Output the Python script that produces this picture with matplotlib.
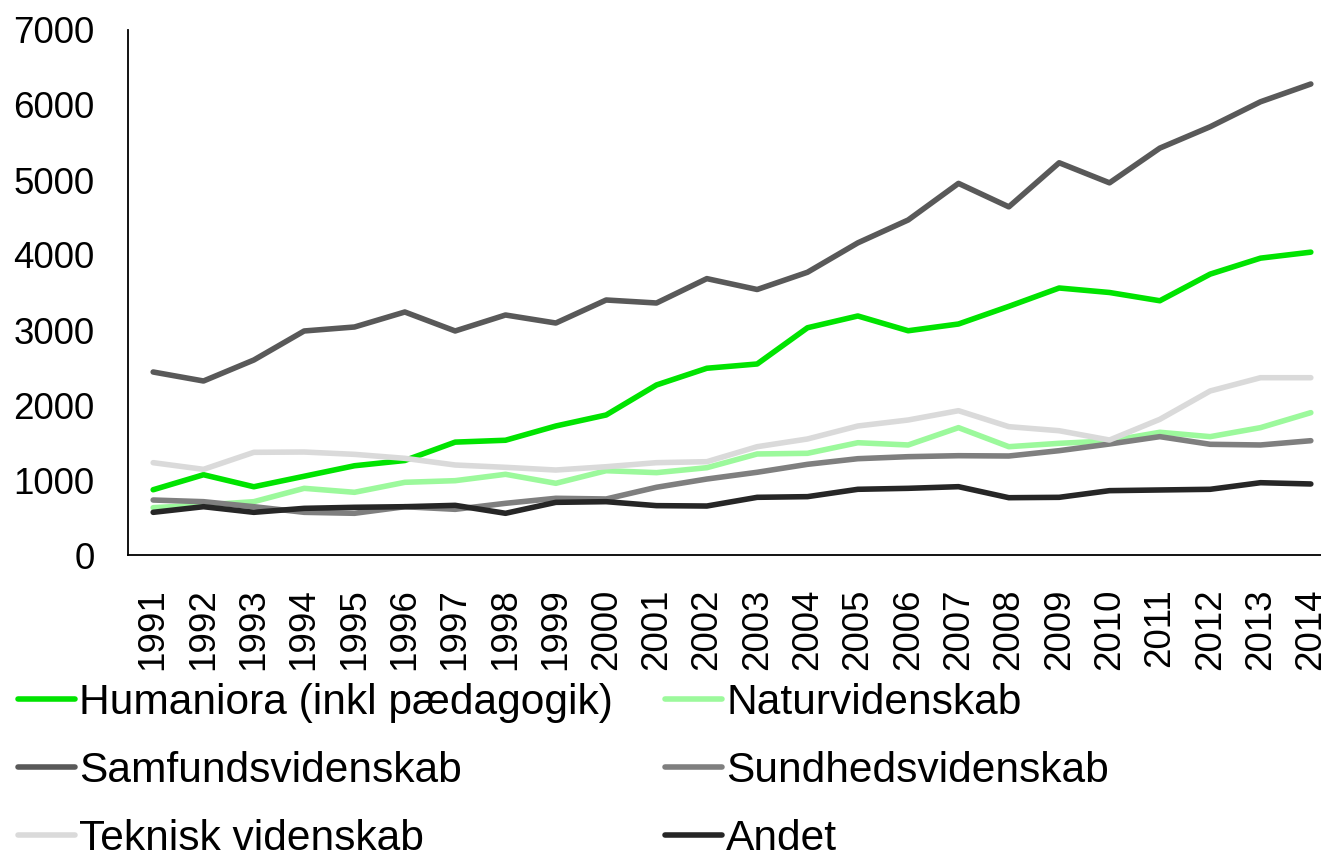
import matplotlib.pyplot as plt

plt.rcParams['font.family'] = ['Liberation Sans', 'DejaVu Sans']

years = [str(y) for y in range(1991, 2015)]

humaniora = [870, 1070, 910, 1050, 1190, 1260, 1505, 1530, 1720, 1867, 2267, 2490,
             2547, 3030, 3187, 2990, 3080, 3315, 3560, 3500, 3390, 3745, 3958, 4038]
natur = [631, 667, 711, 889, 836, 969, 991, 1076, 956, 1124, 1098, 1164,
         1347, 1356, 1497, 1467, 1698, 1444, 1489, 1520, 1636, 1578, 1698, 1898]
samfund = [2440, 2320, 2600, 2987, 3040, 3240, 2987, 3200, 3093, 3400, 3360, 3685,
           3540, 3770, 4162, 4467, 4955, 4642, 5230, 4962, 5425, 5710, 6043, 6280]
sundhed = [733, 711, 644, 569, 556, 644, 609, 689, 756, 747, 903, 1013,
           1103, 1209, 1284, 1311, 1324, 1320, 1391, 1480, 1578, 1476, 1467, 1524]
teknisk = [1231, 1142, 1369, 1373, 1342, 1289, 1200, 1169, 1133, 1177, 1231, 1244,
           1444, 1547, 1720, 1800, 1924, 1711, 1657, 1533, 1809, 2187, 2364, 2364]
andet = [569, 644, 569, 622, 636, 644, 662, 556, 702, 711, 658, 653,
         769, 778, 876, 889, 911, 764, 769, 858, 867, 876, 964, 947]

labels = ['Humaniora (inkl pædagogik)', 'Naturvidenskab', 'Samfundsvidenskab',
          'Sundhedsvidenskab', 'Teknisk videnskab', 'Andet']
colors = ['#00E400', '#9CF99C', '#595959', '#7F7F7F', '#DADADA', '#262626']
series = [humaniora, natur, samfund, sundhed, teknisk, andet]

fig = plt.figure(figsize=(13.21, 8.55), dpi=100)
ax = fig.add_axes([128/1321, 300/855, 1208/1321, 525/855])

lines = []
for vals, lab, col in zip(series, labels, colors):
    ln, = ax.plot(range(len(years)), vals, color=col, lw=4.0, label=lab,
                  solid_capstyle='round', solid_joinstyle='round')
    lines.append(ln)

ax.set_xlim(-0.5, len(years) - 0.5)
ax.set_ylim(0, 7000)
ax.set_yticks(range(0, 7001, 1000))
ax.set_xticks(range(len(years)))
ax.set_xticklabels(years, rotation=90)
ax.tick_params(axis='both', length=0, labelsize=26.5)
ax.tick_params(axis='y', pad=24)
ax.tick_params(axis='x', pad=24)
for s in ['top', 'right']:
    ax.spines[s].set_visible(False)
for s in ['left', 'bottom']:
    ax.spines[s].set_linewidth(1.3)

# matplotlib fills legend columns first, so reorder to get row order
order = [0, 2, 4, 1, 3, 5]
leg = fig.legend([lines[i] for i in order], [labels[i] for i in order],
                 ncol=2, loc='upper left', bbox_to_anchor=(18/1321, 1 - 683/855),
                 frameon=False, fontsize=30.6, borderpad=0, borderaxespad=0,
                 handlelength=1.33, handletextpad=0.1, columnspacing=1.24,
                 labelspacing=0.66)

plt.savefig('out.png', dpi=100)
